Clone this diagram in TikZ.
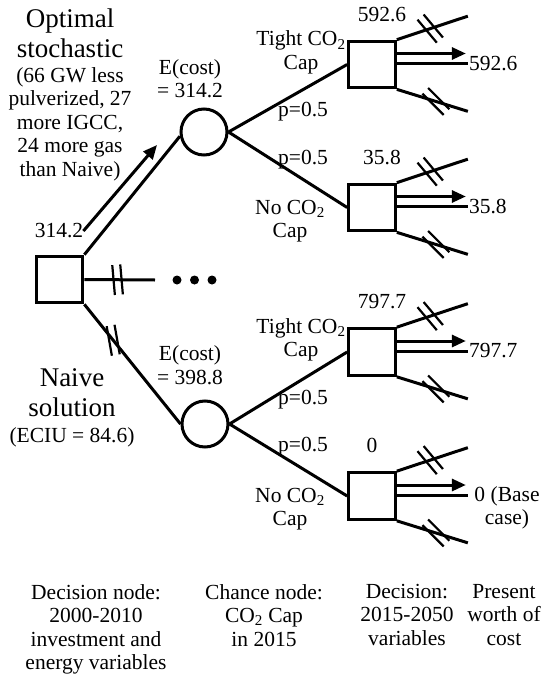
\documentclass[tikz,border=0pt]{standalone}
\usepackage{fontspec}
\setmainfont{Liberation Serif}
\usetikzlibrary{positioning, arrows.meta}
\tikzset{
  decbox/.style    = {draw, line width=3.2pt, minimum size=46.5pt, inner sep=0pt},
  chancenode/.style = {draw, circle, line width=3pt, minimum size=46pt, inner sep=0pt},
  branch/.style    = {line width=3pt},
  payarr/.style    = {-{Triangle[length=14pt,width=12pt]}, line width=3pt},
  lbl/.style       = {font=\fontsize{21.5}{23.5}\selectfont, align=center, inner sep=0pt},
  biglbl/.style    = {font=\fontsize{27}{30}\selectfont, align=center, inner sep=0pt},
  dtick/.pic       = {\draw[line width=2.2pt] (-4,-15) -- (-4,15) (4,-15) -- (4,15);},
}
\begin{document}
\begin{tikzpicture}[x=1pt, y=-1pt]
  \useasboundingbox (0,0) rectangle (543,679);

  % decision and chance nodes
  \node[decbox] (r) at (59.5,279.5) {};
  \node[chancenode] (c1) at (204,132) {};
  \node[chancenode] (c2) at (205,424) {};
  \node[decbox] (s1) at (372,64.5) {};
  \node[decbox] (s2) at (372,207.5) {};
  \node[decbox] (s3) at (372,352) {};
  \node[decbox] (s4) at (372,496) {};

  % first stage
  \coordinate (dend) at (155,280);
  \coordinate (a1) at (157,145);
  \draw[branch] (r.north east) -- (c1.190);
  \draw[branch] (r.east) -- pic[pos=.47, rotate=5]{dtick} (dend);
  \draw[branch] (r.south east) -- pic[pos=.3, rotate=10]{dtick} (c2.west);
  \foreach \i in {0,1,2}
    \fill (177+17.5*\i,280) circle (4.5pt);

  \node[lbl] (v0) at (59,231) {314.2};
  \draw[payarr] (v0.east) -- (a1);

  % chance branches
  \draw[branch] (c1.east) -- (s1.west);
  \draw[branch] (c1.east) -- (s2.west);
  \draw[branch] (c2.east) -- (s3.west);
  \draw[branch] (c2.east) -- (s4.west);

  % second stage
  \foreach \s in {s1,s2,s3,s4} {
    \coordinate (\s-up) at ([shift={(71,-23.5)}]\s.north east);
    \coordinate (\s-dn) at ([shift={(71,22)}]\s.south east);
    \coordinate (\s-ar) at ([shift={(69,-11)}]\s.east);
    \coordinate (\s-pay) at ([shift={(71,-1)}]\s.east);
    \draw[branch] (\s.north east) -- pic[pos=.47, rotate=40]{dtick} (\s-up);
    \draw[branch] (\s.south east) -- pic[pos=.55, rotate=45]{dtick} (\s-dn);
    \draw[payarr] ([yshift=11pt]\s.east) -- (\s-ar);
    \draw[branch] ([yshift=1pt]\s.east) -- (\s-pay);
  }
  \foreach \s/\v/\dx in {s1/592.6/10, s2/35.8/10, s3/797.7/10, s4/0/0}
    \node[lbl, above=18pt of \s, xshift=\dx pt] (\s-top) {\v};
  \node[lbl, anchor=west] (p1) at ([xshift=1pt]s1-pay) {592.6};
  \node[lbl, anchor=west] (p2) at ([xshift=1pt]s2-pay) {35.8};
  \node[lbl, anchor=west] (p3) at ([xshift=1pt]s3-pay) {797.7};
  \node[lbl, anchor=north] (p4) at (507,486) {0 (Base\\case)};

  % branch labels
  \node[lbl] (e1) at (190,78.5) {E(cost)\\= 314.2};
  \node[lbl] (e2) at (190,365) {E(cost)\\= 398.8};
  \node[lbl] (t1) at (301,52.5) {Tight CO\textsubscript{2}\\Cap};
  \node[lbl] (n1) at (290,221) {No CO\textsubscript{2}\\Cap};
  \node[lbl] (t2) at (301,340) {Tight CO\textsubscript{2}\\Cap};
  \node[lbl] (n2) at (290,509) {No CO\textsubscript{2}\\Cap};
  \node[lbl] (q1) at (303,112) {p=0.5};
  \node[lbl] (q2) at (303,160) {p=0.5};
  \node[lbl] (q3) at (303,400) {p=0.5};
  \node[lbl] (q4) at (303,447) {p=0.5};

  % strategy labels
  \node[biglbl, anchor=north] (opt) at (70,9) {Optimal\\stochastic};
  \node[lbl] (optd) at (70,124) {(66 GW less\\pulverized, 27\\more IGCC,\\24 more gas\\than Naive)};
  \node[biglbl] (nai) at (72,393) {Naive\\solution};
  \node[lbl] (naid) at (72,437) {(ECIU = 84.6)};

  % stage captions
  \node[lbl, anchor=north] (k1) at (96,584) {Decision node:\\2000-2010\\investment and\\energy variables};
  \node[lbl, anchor=north] (k2) at (264,584) {Chance node:\\CO\textsubscript{2} Cap\\in 2015};
  \node[lbl, anchor=north] (k3) at (407,584) {Decision:\\2015-2050\\variables};
  \node[lbl, anchor=north] (k4) at (504,584) {Present\\worth of\\cost};
\end{tikzpicture}
\end{document}
